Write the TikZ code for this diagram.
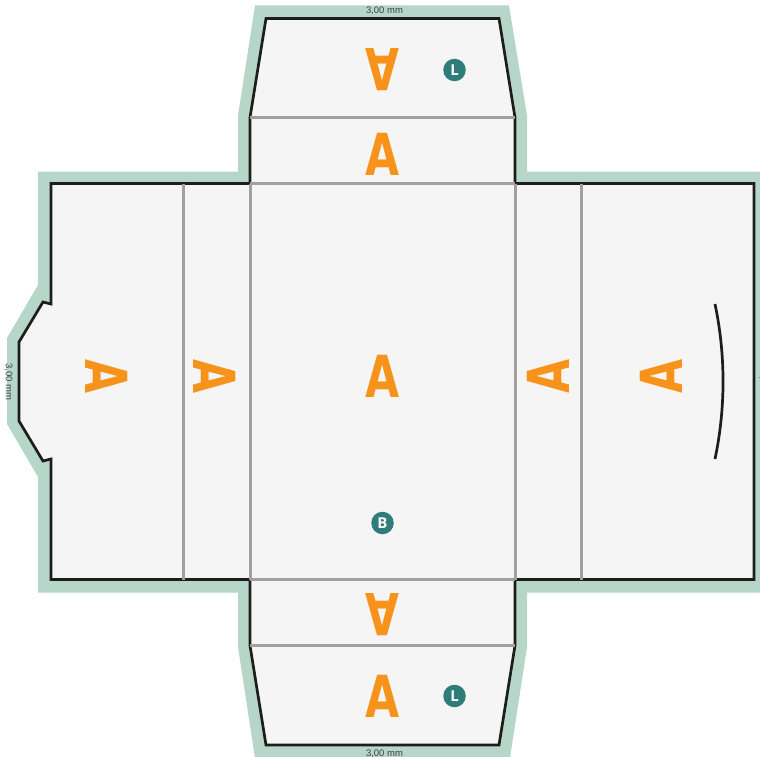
\documentclass[tikz,border=0pt]{standalone}
\usepackage{fontspec}
\setmainfont{Liberation Sans}
\newfontfamily\letterfont{DejaVu Sans}
\newfontfamily\markerfont{Open Sans}
\definecolor{bleedgreen}{HTML}{B5D6C9}
\definecolor{panelgray}{HTML}{F5F5F5}
\definecolor{foldgray}{HTML}{A0A0A0}
\definecolor{outlineblack}{HTML}{1D1D1B}
\definecolor{letterorange}{HTML}{F7931A}
\definecolor{markerteal}{HTML}{2F7D7A}
\tikzset{
	cutline/.style={draw=outlineblack, line width=2.7pt, line join=miter},
	foldline/.style={draw=foldgray, line width=3pt},
	letterA/.style={inner sep=0pt, text=letterorange, font=\letterfont\bfseries\fontsize{58}{58}\selectfont},
	marker/.style={circle, fill=markerteal, text=white, minimum size=22.5pt, inner sep=0pt, font=\markerfont\bfseries\fontsize{15}{15}\selectfont},
	dimlabel/.style={inner sep=0pt, text=black!75, font=\fontsize{9.5}{10}\selectfont},
}
\begin{document}
\begin{tikzpicture}[x=1pt, y=-1pt]
		\useasboundingbox (0,0) rectangle (760,757);
		
		% bleed area
		\fill[bleedgreen]
		(255,5.5) -- (509,5.5) -- (527,115.5) -- (527,171.5) -- (762,171.5) -- (762,592.5) -- (527,592.5) -- (527,647) -- (510,758)
		-- (255,758) -- (238,647) -- (238,592.5) -- (38,592.5) -- (38,477) -- (7,424) -- (7,338) -- (38,285) -- (38,171.5)
		-- (238,171.5) -- (238,115.5) -- cycle;
		
		% box outline
		\path[cutline, fill=panelgray]
		(266,18.5) -- (499,18.5) -- (515,117.5) -- (515,183.5) -- (754,183.5) -- (754,579.5) -- (515,579.5) -- (515,645.5) -- (499,745)
		-- (266,745) -- (250,645.5) -- (250,579.5) -- (51,579.5) -- (51,459) -- (43,461) -- (19,421) -- (19,342) -- (43,302)
		-- (51,304) -- (51,183.5) -- (250,183.5) -- (250,117.5) -- cycle;
		
		\draw[foldline]% horizontal folds
		(250,117.5) -- (515,117.5)
		(250,183.5) -- (515,183.5)
		(250,579.5) -- (515,579.5)
		(250,645.5) -- (515,645.5);
		
		\draw[foldline]% vertical folds
		(183,183.5) -- (183,579.5)
		(250,183.5) -- (250,579.5)
		(515,183.5) -- (515,579.5)
		(581.5,183.5) -- (581.5,579.5);
		
		% slit on the right panel
		\draw[cutline] (715,304) .. controls (725.7,355) and (725.7,408) .. (715,459);
		
		% draw letters
		\foreach \x/\y/\rot [count=\i] in {382.5/70/180, 382.5/154/0, 382.5/376.5/0, 382.5/614.5/180, 382.5/696/0, 107/376.5/-90, 215/376.5/-90, 548/376.5/90, 661/376.5/90} {
			\node[letterA, rotate=\rot] (letter\i) at (\x,\y) {\scalebox{0.76}[1]{A}};
		}
		
		% draw markers
		\node[marker] (markerTop) at (454.5,70) {L};
		\node[marker] (markerBottom) at (454.5,696) {L};
		\node[marker] (markerCentre) at (382.5,523) {B};
		
		% draw dimensions
		\node[dimlabel] (dimTop) at (384.5,11) {3,00 mm};
		\node[dimlabel] (dimBottom) at (384.5,753.5) {3,00 mm};
		\node[dimlabel, rotate=-90] (dimLeft) at (8.5,382) {3,00 mm};
		\node[dimlabel, rotate=-90] (dimRight) at (762.8,389.5) {3,00 mm};
\end{tikzpicture}
\end{document}
